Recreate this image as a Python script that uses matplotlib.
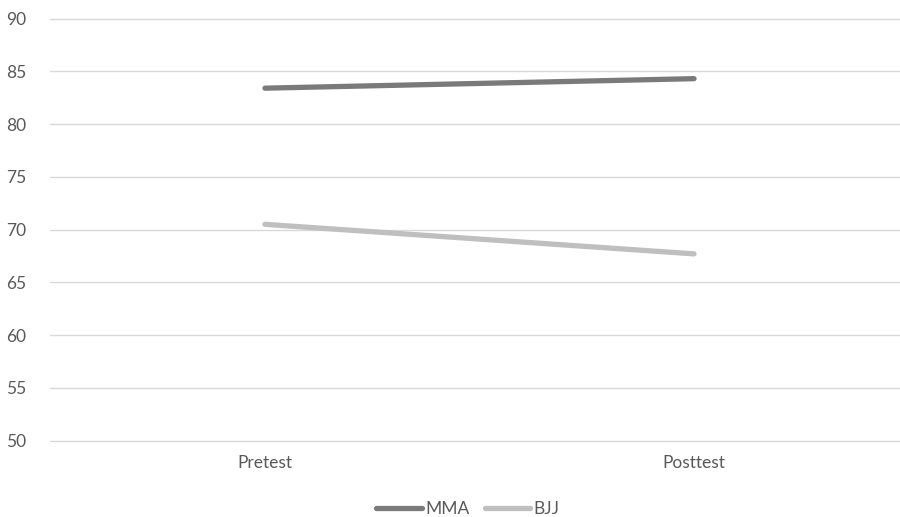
import matplotlib
matplotlib.use("Agg")
import matplotlib.pyplot as plt

# Data
categories = ['Pretest', 'Posttest']
mma = [83.4, 84.3]
bjj = [70.5, 67.7]
y_ticks = [50, 55, 60, 65, 70, 75, 80, 85, 90]

plt.rcParams['font.family'] = ['Lato', 'DejaVu Sans']

fig = plt.figure(figsize=(9, 5.17), dpi=100)
ax = fig.add_axes([50 / 900, 0.1476, 850 / 900, 0.9642 - 0.1476])

x = range(len(categories))
ax.plot(x, mma, color='#7a7a7a', linewidth=3.8, solid_capstyle='round', label='MMA', zorder=3)
ax.plot(x, bjj, color='#bfbfbf', linewidth=3.8, solid_capstyle='round', label='BJJ', zorder=3)

ax.set_xlim(-0.501, 1.48)
ax.set_ylim(50, 90)
ax.set_yticks(y_ticks)
ax.set_xticks(list(x))
ax.set_xticklabels(categories)

ax.grid(axis='y', color='#d9d9d9', linewidth=1)
for gl in ax.yaxis.get_gridlines():
    gl.set_clip_on(False)
for s in ['top', 'right', 'left', 'bottom']:
    ax.spines[s].set_visible(False)
ax.tick_params(axis='both', length=0, labelsize=12.5, colors='#595959')
ax.tick_params(axis='y', pad=17)
ax.tick_params(axis='x', pad=10)

leg = fig.legend(loc='lower center', bbox_to_anchor=(0.52, -0.03), ncol=2, frameon=False,
                 fontsize=12.5, handlelength=2.6, handletextpad=0.2, columnspacing=0.9)
for t in leg.get_texts():
    t.set_color('#595959')

fig.savefig('out.png', dpi=100)
